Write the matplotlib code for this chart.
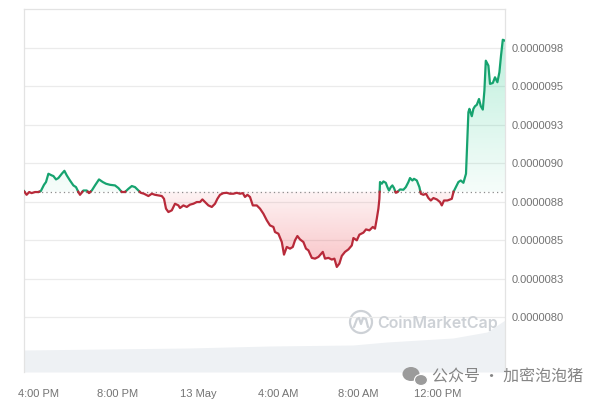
import numpy as np
import matplotlib
matplotlib.use("Agg")
import matplotlib.pyplot as plt
from matplotlib.path import Path
from matplotlib.patches import PathPatch, Ellipse
from matplotlib.colors import to_rgb

# price track, hours counted from 12 May 4:00 PM, price in units of 1e-7
hours = [-0.70, -0.57, -0.44, -0.32, -0.15, 0.02, 0.14, 0.30, 0.40, 0.52,
         0.69, 0.77, 0.90, 1.02, 1.19, 1.32, 1.44, 1.60, 1.77, 1.90,
         2.02, 2.10, 2.27, 2.44, 2.55, 2.69, 2.85, 3.05, 3.24, 3.40,
         3.60, 3.85, 4.02, 4.19, 4.35, 4.52, 4.69, 4.85, 5.02, 5.14,
         5.30, 5.52, 5.69, 5.85, 6.02, 6.19, 6.30, 6.40, 6.52, 6.69,
         6.85, 7.02, 7.10, 7.27, 7.44, 7.60, 7.77, 7.94, 8.10, 8.22,
         8.35, 8.52, 8.69, 8.85, 8.97, 9.10, 9.27, 9.44, 9.60, 9.77,
         9.94, 10.10, 10.24, 10.35, 10.47, 10.60, 10.74, 10.94, 11.10, 11.27,
         11.44, 11.60, 11.77, 11.85, 12.02, 12.19, 12.30, 12.44, 12.60, 12.74,
         12.85, 12.97, 13.10, 13.27, 13.40, 13.52, 13.69, 13.85, 14.02, 14.24,
         14.35, 14.52, 14.69, 14.82, 14.94, 15.07, 15.19, 15.35, 15.52, 15.69,
         15.77, 15.94, 16.07, 16.27, 16.40, 16.57, 16.74, 16.85, 16.94, 17.02,
         17.07, 17.10, 17.19, 17.27, 17.39, 17.47, 17.55, 17.64, 17.72, 17.80,
         17.89, 17.97, 18.10, 18.27, 18.39, 18.52, 18.60, 18.72, 18.80, 18.94,
         19.07, 19.14, 19.27, 19.40, 19.52, 19.64, 19.77, 19.94, 20.10, 20.19,
         20.30, 20.47, 20.69, 20.77, 20.85, 21.02, 21.14, 21.27, 21.40, 21.52,
         21.57, 21.69, 21.77, 21.85, 21.94, 22.05, 22.14, 22.24, 22.32, 22.39,
         22.52, 22.60, 22.74, 22.85, 22.97, 23.07, 23.15, 23.24, 23.35]
price_e7 = [88.19, 87.95, 88.13, 88.06, 88.13, 88.13, 88.19, 88.60, 88.78, 89.32,
            89.21, 89.17, 88.95, 89.04, 89.32, 89.51, 89.21, 88.88, 88.56, 88.45,
            88.13, 87.95, 88.23, 88.23, 88.06, 88.23, 88.56, 88.95, 88.78, 88.67,
            88.60, 88.56, 88.39, 88.13, 88.13, 88.34, 88.52, 88.45, 88.23, 88.08,
            88.02, 87.87, 88.02, 87.95, 87.91, 87.87, 87.69, 87.05, 86.83, 86.94,
            87.37, 87.26, 87.09, 87.26, 87.16, 87.31, 87.37, 87.48, 87.48, 87.65,
            87.48, 87.26, 87.16, 87.37, 87.69, 87.95, 88.06, 88.08, 88.02, 88.02,
            88.08, 88.02, 88.06, 87.81, 87.95, 87.81, 87.26, 87.26, 87.05, 86.72,
            86.29, 85.96, 85.86, 85.53, 85.42, 84.88, 84.06, 84.56, 84.45, 84.56,
            84.99, 85.27, 85.05, 84.88, 84.45, 84.34, 83.85, 83.80, 83.91, 84.24,
            83.80, 83.85, 83.74, 83.80, 83.26, 83.48, 83.98, 84.24, 84.40, 84.66,
            85.14, 84.99, 85.36, 85.49, 85.70, 85.64, 85.86, 85.75, 86.40, 87.05,
            87.69, 88.78, 88.67, 88.82, 88.73, 88.45, 88.23, 88.45, 88.56, 88.39,
            88.08, 88.13, 88.30, 88.28, 88.45, 88.78, 89.04, 88.88, 88.99, 88.88,
            88.45, 88.02, 87.95, 88.02, 87.74, 87.58, 87.74, 87.65, 87.48, 87.26,
            87.58, 87.58, 87.69, 88.13, 88.34, 88.78, 88.88, 88.73, 89.32, 93.32,
            93.54, 93.06, 93.54, 93.71, 93.80, 94.18, 93.71, 93.49, 94.72, 96.67,
            96.35, 95.16, 95.22, 95.59, 95.27, 95.92, 96.99, 98.03, 97.97]
baseline_e7 = 88.15

vol_hours = [-0.70, 7.5, 11.6, 15.75, 17.45, 20.75, 22.45, 23.35]
volume = [22, 24, 26, 27, 30, 34, 40, 52]

ytick_vals = [80, 82.5, 85, 87.5, 90, 92.5, 95, 97.5]
ytick_labels = ['0.0000080', '0.0000083', '0.0000085', '0.0000088',
                '0.0000090', '0.0000093', '0.0000095', '0.0000098']
xtick_vals = [0, 4, 8, 12, 16, 20]
xtick_labels = ['4:00 PM', '8:00 PM', '13 May', '4:00 AM', '8:00 AM', '12:00 PM']

GREEN = '#16a36f'
GREEN_FILL = '#16c784'
RED = '#b82a3a'
RED_FILL = '#ea3943'
GRID = '#ebebeb'
TXT = '#737373'

fig = plt.figure(figsize=(6, 4), dpi=100)
pos = [24 / 600, 28 / 400, 481 / 600, 363 / 400]

# volume strip (own axis, behind)
vax = fig.add_axes(pos, zorder=0)
vax.fill_between(vol_hours, volume, 0, color='#eef1f4', lw=0)
vax.set_xlim(-0.7, 23.35)
vax.set_ylim(0, 363)
vax.axis('off')

ax = fig.add_axes(pos, zorder=1)
ax.patch.set_alpha(0)

x = np.array(hours)
y = np.array(price_e7)

# add crossing points with the baseline so the colours switch cleanly
xs, ys = [x[0]], [y[0]]
for i in range(1, len(x)):
    a, b = y[i - 1] - baseline_e7, y[i] - baseline_e7
    if a * b < 0:
        t = a / (a - b)
        xs.append(x[i - 1] + t * (x[i] - x[i - 1]))
        ys.append(baseline_e7)
    xs.append(x[i])
    ys.append(y[i])
xs, ys = np.array(xs), np.array(ys)

up = np.ma.masked_where(ys < baseline_e7, ys)
down = np.ma.masked_where(ys > baseline_e7, ys)


def gradient_fill(where, color, lo, hi, a_lo, a_hi, strong_high):
    poly = ax.fill_between(xs, ys, baseline_e7, where=where, interpolate=True,
                           color='none', lw=0)
    path = Path.make_compound_path(*poly.get_paths())
    patch = PathPatch(path, transform=ax.transData, facecolor='none', edgecolor='none')
    ax.add_patch(patch)
    alphas = np.linspace(a_lo, a_hi, 200)
    if not strong_high:
        alphas = alphas[::-1]
    img = np.zeros((200, 1, 4))
    img[:, 0, :3] = to_rgb(color)
    img[:, 0, 3] = alphas
    im = ax.imshow(img, aspect='auto', origin='lower', extent=[xs.min(), xs.max(), lo, hi],
                   zorder=1, interpolation='bilinear')
    im.set_clip_path(patch)


gradient_fill(ys >= baseline_e7, GREEN_FILL, baseline_e7, ys.max(), 0.04, 0.28, True)
gradient_fill(ys <= baseline_e7, RED_FILL, ys.min(), baseline_e7, 0.06, 0.30, False)

ax.plot(xs, up, color=GREEN, lw=1.6, zorder=3, solid_joinstyle='round')
ax.plot(xs, down, color=RED, lw=1.6, zorder=3, solid_joinstyle='round')
ax.axhline(baseline_e7, color='#8c8c8c', lw=0.9, ls=(0, (1, 2.5)), zorder=2)

ax.set_xlim(-0.7, 23.35)
ax.set_ylim(76.43, 100.03)

ax.set_yticks(ytick_vals)
ax.set_yticklabels(ytick_labels)
ax.yaxis.tick_right()
ax.set_xticks(xtick_vals)
ax.set_xticklabels(xtick_labels)
ax.tick_params(axis='y', length=0, pad=5, labelsize=8, labelcolor=TXT)
ax.tick_params(axis='x', length=0, pad=12, labelsize=8, labelcolor=TXT)
for lab in ax.get_xticklabels() + ax.get_yticklabels():
    lab.set_family('Liberation Sans')
ax.grid(axis='y', color=GRID, lw=0.9)
ax.set_axisbelow(True)
for side in ['left', 'top', 'right']:
    ax.spines[side].set_color('#e3e3e3')
    ax.spines[side].set_linewidth(0.9)
ax.spines['bottom'].set_visible(False)

# CoinMarketCap watermark
fig.add_artist(Ellipse((361 / 600, 1 - 322 / 400), 22 / 600, 22 / 400,
                       transform=fig.transFigure, fill=False, ec='#cdd1d6', lw=1.6))
fig.add_artist(plt.Line2D(np.array([354, 357, 359, 361, 363, 366, 368]) / 600,
                          1 - np.array([327, 319, 318, 324, 318, 319, 327]) / 400,
                          transform=fig.transFigure, color='#cdd1d6', lw=1.6,
                          solid_capstyle='round'))
fig.text(377 / 600, 1 - 323 / 400, 'CoinMarketCap', color='#cdd1d6', fontsize=11.5,
         family='Inter', weight='semibold', va='center', ha='left')

# WeChat watermark
fig.add_artist(Ellipse((411 / 600, 1 - 374 / 400), 17 / 600, 14 / 400,
                       transform=fig.transFigure, color='#9b9b9b', lw=0))
fig.add_artist(Ellipse((421 / 600, 1 - 380 / 400), 13 / 600, 11 / 400,
                       transform=fig.transFigure, color='#9b9b9b', ec='white', lw=0.8))
fig.text(432 / 600, 1 - 377 / 400, '公众号 · 加密泡泡猪', color='#858585', fontsize=11.5,
         family=['Noto Sans CJK SC', 'DejaVu Sans'], va='center', ha='left')

fig.savefig('out.png', dpi=100)
